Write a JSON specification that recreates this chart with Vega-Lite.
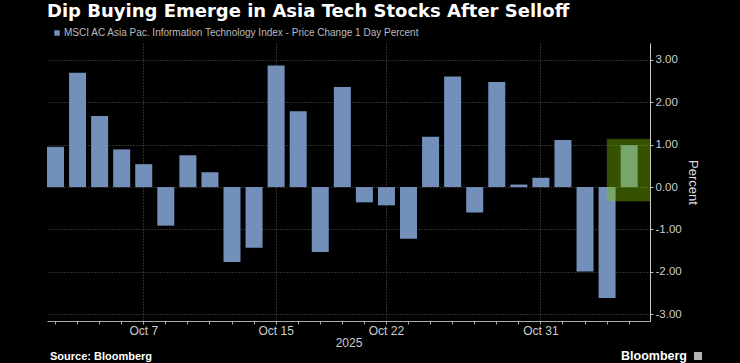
{
  "$schema": "https://vega.github.io/schema/vega-lite/v6.json",
  "autosize": {"type": "none"},
  "padding": {"left": 47, "top": 43, "right": 90, "bottom": 42},
  "width": 603,
  "height": 278,
  "background": "#000000",
  "config": {"view": {"stroke": null}, "font": "Liberation Sans"},
  "title": {
    "text": "Dip Buying Emerge in Asia Tech Stocks After Selloff",
    "anchor": "start",
    "frame": "group",
    "color": "#ffffff",
    "font": "DejaVu Sans",
    "fontSize": 18,
    "fontWeight": "bold",
    "baseline": "alphabetic",
    "offset": 0,
    "dy": 6.5
  },
  "datasets": {
    "bars": [
      {"day": "Oct 1", "pct": 0.95, "series": "MSCI AC Asia Pac. Information Technology Index - Price Change 1 Day Percent"},
      {"day": "Oct 2", "pct": 2.70, "series": "MSCI AC Asia Pac. Information Technology Index - Price Change 1 Day Percent"},
      {"day": "Oct 3", "pct": 1.68, "series": "MSCI AC Asia Pac. Information Technology Index - Price Change 1 Day Percent"},
      {"day": "Oct 6", "pct": 0.89, "series": "MSCI AC Asia Pac. Information Technology Index - Price Change 1 Day Percent"},
      {"day": "Oct 7", "pct": 0.54, "series": "MSCI AC Asia Pac. Information Technology Index - Price Change 1 Day Percent"},
      {"day": "Oct 8", "pct": -0.91, "series": "MSCI AC Asia Pac. Information Technology Index - Price Change 1 Day Percent"},
      {"day": "Oct 9", "pct": 0.75, "series": "MSCI AC Asia Pac. Information Technology Index - Price Change 1 Day Percent"},
      {"day": "Oct 10", "pct": 0.35, "series": "MSCI AC Asia Pac. Information Technology Index - Price Change 1 Day Percent"},
      {"day": "Oct 13", "pct": -1.77, "series": "MSCI AC Asia Pac. Information Technology Index - Price Change 1 Day Percent"},
      {"day": "Oct 14", "pct": -1.43, "series": "MSCI AC Asia Pac. Information Technology Index - Price Change 1 Day Percent"},
      {"day": "Oct 15", "pct": 2.87, "series": "MSCI AC Asia Pac. Information Technology Index - Price Change 1 Day Percent"},
      {"day": "Oct 16", "pct": 1.79, "series": "MSCI AC Asia Pac. Information Technology Index - Price Change 1 Day Percent"},
      {"day": "Oct 17", "pct": -1.53, "series": "MSCI AC Asia Pac. Information Technology Index - Price Change 1 Day Percent"},
      {"day": "Oct 20", "pct": 2.36, "series": "MSCI AC Asia Pac. Information Technology Index - Price Change 1 Day Percent"},
      {"day": "Oct 21", "pct": -0.36, "series": "MSCI AC Asia Pac. Information Technology Index - Price Change 1 Day Percent"},
      {"day": "Oct 22", "pct": -0.43, "series": "MSCI AC Asia Pac. Information Technology Index - Price Change 1 Day Percent"},
      {"day": "Oct 23", "pct": -1.22, "series": "MSCI AC Asia Pac. Information Technology Index - Price Change 1 Day Percent"},
      {"day": "Oct 24", "pct": 1.19, "series": "MSCI AC Asia Pac. Information Technology Index - Price Change 1 Day Percent"},
      {"day": "Oct 27", "pct": 2.61, "series": "MSCI AC Asia Pac. Information Technology Index - Price Change 1 Day Percent"},
      {"day": "Oct 28", "pct": -0.60, "series": "MSCI AC Asia Pac. Information Technology Index - Price Change 1 Day Percent"},
      {"day": "Oct 29", "pct": 2.48, "series": "MSCI AC Asia Pac. Information Technology Index - Price Change 1 Day Percent"},
      {"day": "Oct 30", "pct": 0.06, "series": "MSCI AC Asia Pac. Information Technology Index - Price Change 1 Day Percent"},
      {"day": "Oct 31", "pct": 0.22, "series": "MSCI AC Asia Pac. Information Technology Index - Price Change 1 Day Percent"},
      {"day": "Nov 3", "pct": 1.11, "series": "MSCI AC Asia Pac. Information Technology Index - Price Change 1 Day Percent"},
      {"day": "Nov 4", "pct": -1.99, "series": "MSCI AC Asia Pac. Information Technology Index - Price Change 1 Day Percent"},
      {"day": "Nov 5", "pct": -2.62, "series": "MSCI AC Asia Pac. Information Technology Index - Price Change 1 Day Percent"},
      {"day": "Nov 6", "pct": 0.99, "series": "MSCI AC Asia Pac. Information Technology Index - Price Change 1 Day Percent"}
    ]
  },
  "layer": [
    {
      "data": {"name": "bars"},
      "mark": {"type": "bar"},
      "encoding": {
        "x": {
          "field": "day",
          "type": "ordinal",
          "sort": null,
          "scale": {"paddingInner": 0.23, "paddingOuter": 0.28, "align": 0},
          "axis": {
            "title": "2025",
            "titleColor": "#cccccc",
            "titleFontSize": 12,
            "titleFontWeight": "normal",
            "titlePadding": 1,
            "labelAngle": 0,
            "labelColor": "#cccccc",
            "labelFontSize": 12,
            "labelPadding": 1,
            "labelExpr": "indexof(['Oct 7','Oct 15','Oct 22','Oct 31'], datum.value) >= 0 ? datum.value : ''",
            "bandPosition": 0.5,
            "tickSize": 3,
            "tickColor": "#aaaaaa",
            "domainColor": "#aaaaaa",
            "grid": true,
            "gridColor": "#5a5a5a",
            "gridDash": [1, 2],
            "gridOpacity": {"condition": {"test": "indexof(['Oct 7','Oct 15','Oct 22','Oct 31'], datum.value) >= 0", "value": 1}, "value": 0}
          }
        },
        "y": {
          "field": "pct",
          "type": "quantitative",
          "scale": {"domain": [-3.16, 3.4], "nice": false, "zero": false},
          "axis": {
            "orient": "right",
            "title": "Percent",
            "titleColor": "#dddddd",
            "titleFontSize": 13,
            "titleFontWeight": "normal",
            "titlePadding": 4,
            "values": [-3, -2.5, -2, -1.5, -1, -0.5, 0, 0.5, 1, 1.5, 2, 2.5, 3],
            "labelExpr": "datum.value % 1 == 0 ? (datum.value < 0 ? '-' : '') + format(abs(datum.value), '.2f') : ''",
            "labelColor": "#cccccc",
            "labelFontSize": 11.5,
            "labelPadding": 2,
            "tickSize": 3,
            "tickColor": "#bbbbbb",
            "domainColor": "#cccccc",
            "grid": true,
            "gridColor": "#5a5a5a",
            "gridDash": [1, 2],
            "gridOpacity": {"condition": {"test": "datum.value % 1 == 0", "value": 1}, "value": 0}
          }
        },
        "color": {
          "field": "series",
          "type": "nominal",
          "scale": {"range": ["#7390bb"]},
          "legend": {
            "orient": "none",
            "legendX": 5,
            "legendY": -15,
            "title": null,
            "padding": 0,
            "symbolType": "square",
            "symbolSize": 30,
            "symbolStrokeWidth": 0,
            "labelColor": "#bbbbbb",
            "labelFontSize": 10,
            "labelOffset": 2,
            "labelLimit": 700
          }
        }
      }
    },
    {
      "data": {"name": "bars"},
      "transform": [{"filter": "datum.day == 'Nov 5'"}],
      "mark": {"type": "rect", "color": "#7fc400", "opacity": 0.42, "stroke": "#8fd020", "strokeWidth": 1, "strokeOpacity": 0.5},
      "encoding": {
        "x": {"field": "day", "type": "ordinal", "sort": null, "bandPosition": 0.5},
        "x2": {"value": "width"},
        "y": {"datum": 1.13},
        "y2": {"datum": -0.33}
      }
    },
    {
      "data": {"values": [{"t": "Source: Bloomberg"}]},
      "mark": {"type": "text", "align": "left", "baseline": "middle", "color": "#ffffff", "font": "Liberation Sans", "fontSize": 11, "fontWeight": "bold"},
      "encoding": {"text": {"field": "t"}, "x": {"value": 3}, "y": {"value": 314}}
    },
    {
      "data": {"values": [{"t": "Bloomberg"}]},
      "mark": {"type": "text", "align": "right", "baseline": "middle", "color": "#ffffff", "font": "Liberation Sans", "fontSize": 12.5, "fontWeight": "bold"},
      "encoding": {"text": {"field": "t"}, "x": {"value": 640}, "y": {"value": 313}}
    },
    {
      "data": {"values": [{"t": "logo"}]},
      "mark": {"type": "square", "filled": true, "color": "#ffffff", "size": 64},
      "encoding": {"x": {"value": 651}, "y": {"value": 313}}
    }
  ]
}
